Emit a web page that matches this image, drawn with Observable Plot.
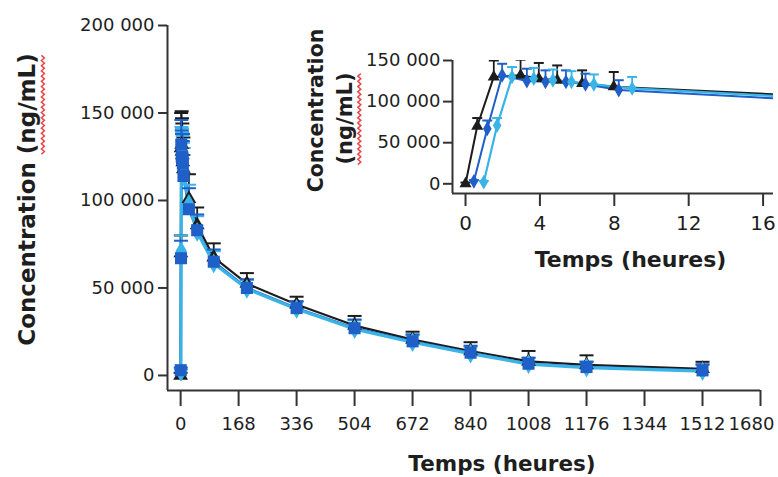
<!DOCTYPE html>
<html><head><meta charset="utf-8">
<script src="https://cdn.jsdelivr.net/npm/d3@7"></script>
<script src="https://cdn.jsdelivr.net/npm/@observablehq/plot@0.6"></script>
<style>
html,body{margin:0;padding:0;background:#fff;}
#chart{position:relative;width:778px;height:477px;overflow:hidden;background:#fff;}
#chart svg{position:absolute;left:0;top:0;}
</style></head><body><div id="chart"></div>
<script>
// ---- data (hours, ng/mL) ----
const seriesNames = ["black", "blue", "cyan"];
const tBlack = [0, 0.63, 1.52, 2.96, 3.94, 4.93, 6.27, 7.97, 24, 48, 96, 192, 336, 504, 672, 840, 1008, 1176, 1512];
const vBlack = [0, 70000, 130000, 132000, 128000, 126000, 122000, 118000, 101000, 86000, 67500, 52500, 40500, 28500, 20500, 14000, 8000, 6000, 3800];
const sdBlack = [1500, 10000, 20000, 19000, 19000, 18000, 16000, 18000, 14000, 10000, 8000, 6000, 4500, 5500, 4500, 5000, 6000, 5500, 4000];

const tBlue = [0.45, 1.17, 1.97, 3.3, 4.3, 5.4, 6.45, 8.24, 24, 48, 96, 192, 336, 504, 672, 840, 1008, 1176, 1512];
const vBlue = [3000, 67000, 132000, 125000, 124000, 124000, 121000, 114000, 95000, 83000, 65000, 50000, 38500, 27000, 19500, 13000, 6700, 4800, 2900];
const sdBlue = [1500, 10000, 14000, 15000, 14000, 14000, 13000, 12000, 12000, 9000, 7000, 5000, 4000, 5000, 4000, 4000, 3500, 3000, 3500];

const tCyan = [0.98, 1.7, 2.5, 3.67, 4.7, 5.7, 6.9, 8.96, 24, 48, 96, 192, 336, 504, 672, 840, 1008, 1176, 1512];
const vCyan = [2000, 71000, 130000, 128000, 126000, 124000, 121000, 116000, 98000, 82000, 64000, 49500, 38000, 26500, 19000, 12500, 6500, 4500, 2500];
const sdCyan = [1500, 9000, 12000, 13000, 13000, 13000, 12000, 14000, 11000, 9000, 7000, 5000, 4000, 5000, 4000, 4000, 3500, 3500, 3500];

const mainXTicks = [0, 168, 336, 504, 672, 840, 1008, 1176, 1344, 1512, 1680];
const mainYTicks = [0, 50000, 100000, 150000, 200000];
const insetXTicks = [0, 4, 8, 12, 16];
const insetYTicks = [0, 50000, 100000, 150000];
const xTitle = "Temps (heures)";
const yTitle = "Concentration (ng/mL)";
const yTitleInset1 = "Concentration";
const yTitleInset2 = "(ng/mL)";

// ---- styling ----
const colors = {black: "#1c1c1c", blue: "#1f5fc8", cyan: "#3ab4e6"};
const mainSymbols = {black: "triangle", blue: "square", cyan: "diamond"};
const insetSymbols = {black: "triangle", blue: "diamond", cyan: "diamond"};
const FONT = "DejaVu Sans, Verdana, sans-serif";
const AXIS = "#333";
const TXT = "#1e1e1e";

const rows = (name, t, v, sd) => t.map((x, i) => ({series: name, t: x, v: v[i], hi: v[i] + sd[i]}));
const data = {
  black: rows("black", tBlack, vBlack, sdBlack),
  blue: rows("blue", tBlue, vBlue, sdBlue),
  cyan: rows("cyan", tCyan, vCyan, sdCyan)
};

const fmt = d3.formatLocale({decimal: ",", thousands: " ", grouping: [3], currency: ["", ""]}).format(",d");
const cap = {draw(ctx, size) { const w = Math.sqrt(size / Math.PI); ctx.moveTo(-w, 0); ctx.lineTo(w, 0); }};

function seriesMarks(order, symbols, opts) {
  const marks = [];
  for (const s of ["black", "blue", "cyan"]) {
    marks.push(Plot.line(data[s], {x: "t", y: "v", stroke: colors[s], strokeWidth: opts.lw[s], clip: opts.clip}));
  }
  for (const s of order) {
    marks.push(Plot.ruleX(data[s], {x: "t", y1: "v", y2: "hi", stroke: colors[s], strokeWidth: 1.8, clip: opts.clip}));
    marks.push(Plot.dot(data[s], {x: "t", y: "hi", symbol: cap, r: opts.capR, stroke: colors[s], strokeWidth: 2, fill: "none", clip: opts.clip}));
  }
  for (const s of order) {
    marks.push(Plot.dot(data[s], {x: "t", y: "v", symbol: symbols[s], r: opts.r[s], fill: colors[s], stroke: "none", clip: opts.clip}));
  }
  return marks;
}

const xDomMain = [-38, 1680];
const yDomMain = [-8600, 200000];
const lastMainTick = mainXTicks[mainXTicks.length - 1];

const main = Plot.plot({
  width: 778, height: 477,
  marginLeft: 167, marginRight: 18, marginTop: 25, marginBottom: 87,
  style: {background: "transparent", fontFamily: FONT, color: TXT, overflow: "visible"},
  x: {domain: xDomMain, label: null},
  y: {domain: yDomMain, label: null},
  marks: [
    ...seriesMarks(["black", "cyan", "blue"], mainSymbols, {
      clip: false, capR: 7,
      lw: {black: 2.2, blue: 2.4, cyan: 3.2},
      r: {black: 5.5, blue: 6.8, cyan: 6}
    }),
    Plot.axisX(mainXTicks, {tickSize: 16, tickPadding: 11, fontSize: 18, strokeWidth: 2, stroke: AXIS, label: null, tickFormat: d => d === lastMainTick ? "" : String(d)}),
    Plot.axisX([lastMainTick], {tickSize: 0, tickPadding: 27, fontSize: 18, dx: -9, label: null, tickFormat: d => String(d)}),
    Plot.axisY(mainYTicks, {tickSize: 9, tickPadding: 4, fontSize: 18, strokeWidth: 2, stroke: AXIS, label: null, tickFormat: fmt}),
    Plot.ruleX([xDomMain[0]], {stroke: AXIS, strokeWidth: 2}),
    Plot.ruleY([yDomMain[0]], {stroke: AXIS, strokeWidth: 2}),
    Plot.text([xTitle], {frameAnchor: "bottom", dx: 38, dy: 80, fontSize: 21.5, fontWeight: "bold", lineAnchor: "bottom", textAnchor: "middle", fill: TXT}),
    Plot.text([yTitle], {frameAnchor: "left", rotate: -90, dx: -133, dy: -8.5, fontSize: 23, fontWeight: "bold", lineAnchor: "bottom", textAnchor: "middle", fill: TXT})
  ]
});

const xDomInset = [-0.7, 16.56];
const yDomInset = [-11800, 150000];

const inset = Plot.plot({
  width: 778, height: 477,
  marginLeft: 452, marginRight: 5, marginTop: 60, marginBottom: 284,
  style: {background: "transparent", fontFamily: FONT, color: TXT, overflow: "visible"},
  x: {domain: xDomInset, label: null},
  y: {domain: yDomInset, label: null},
  marks: [
    ...seriesMarks(["black", "blue", "cyan"], insetSymbols, {
      clip: true, capR: 5,
      lw: {black: 2, blue: 2, cyan: 2.2},
      r: {black: 4.5, blue: 4.5, cyan: 4.5}
    }),
    Plot.axisX(insetXTicks, {tickSize: 13, tickPadding: 9, fontSize: 20, strokeWidth: 2, stroke: AXIS, label: null}),
    Plot.axisY(insetYTicks, {tickSize: 9, tickPadding: 3, fontSize: 18, strokeWidth: 2, stroke: AXIS, label: null, tickFormat: fmt}),
    Plot.ruleX([xDomInset[0]], {stroke: AXIS, strokeWidth: 2}),
    Plot.ruleY([yDomInset[0]], {stroke: AXIS, strokeWidth: 2}),
    Plot.text([xTitle], {frameAnchor: "bottom", dx: 17.5, dy: 73, fontSize: 22, fontWeight: "bold", lineAnchor: "bottom", textAnchor: "middle", fill: TXT}),
    Plot.text([yTitleInset1], {frameAnchor: "left", rotate: -90, dx: -130, dy: -16.5, fontSize: 20.5, fontWeight: "bold", lineAnchor: "bottom", textAnchor: "middle", fill: TXT}),
    Plot.text([yTitleInset2], {frameAnchor: "left", rotate: -90, dx: -101, dy: -8.5, fontSize: 21, fontWeight: "bold", lineAnchor: "bottom", textAnchor: "middle", fill: TXT})
  ]
});

const el = document.getElementById("chart");
el.appendChild(main);
el.appendChild(inset);

// red wavy spell-check underline under "(ng/mL)" (computed from the laid-out text)
function wavy(svg) {
  svg.querySelectorAll("text").forEach(t => {
    const s = t.textContent;
    const i = s.indexOf("(ng/mL)");
    if (i < 0) return;
    const a = t.getStartPositionOfChar(i);
    const b = t.getEndPositionOfChar(i + 6);
    const fs = parseFloat(getComputedStyle(t).fontSize) || 20;
    const y0 = a.y + fs * 0.3;
    const step = 2.6, amp = 3;
    let d = `M${a.x},${y0}`;
    let k = 0;
    for (let x = a.x + step; x <= b.x + 0.01; x += step, k++) {
      d += `L${x},${y0 + (k % 2 === 0 ? amp : 0)}`;
    }
    const p = document.createElementNS("http://www.w3.org/2000/svg", "path");
    p.setAttribute("d", d);
    p.setAttribute("fill", "none");
    p.setAttribute("stroke", "#e8474a");
    p.setAttribute("stroke-width", "1.5");
    const tr = t.getAttribute("transform");
    if (tr) p.setAttribute("transform", tr);
    t.parentNode.appendChild(p);
  });
}
wavy(main); wavy(inset);
</script></body></html>
